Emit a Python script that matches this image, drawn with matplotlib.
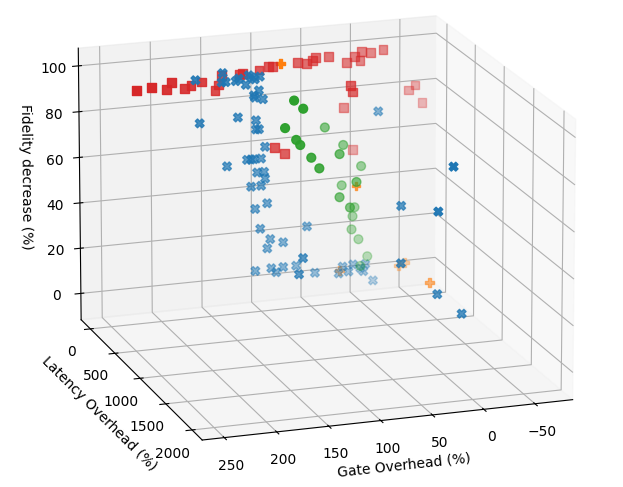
import matplotlib

matplotlib.use("Agg")
import matplotlib.pyplot as plt

# (gate overhead %, latency overhead %, fidelity decrease %) per method
red_x = [223, 209, 194, 189, 176, 170, 159, 146, 142, 139, 122, 118, 102, 92, 88, 64, 54, 49,
         45, 32, 15, 6, 1, -1, -10, -22, 19, 17, 17, 8, 95, 85, -48, -55, -62]
red_y = [0, 10, 0, 5, 0, 10, 0, 5, 0, 0, 10, 0, 5, 0, 0, 10, 0, 5,
         0, 0, 10, 0, 5, 0, 0, 10, 167, 167, 0, 0, 167, 167, 0, 0, 0]
red_z = [91, 92, 90, 93, 90, 91, 92, 88, 90, 94, 94, 94, 95, 96, 96, 97, 96, 97,
         98, 98, 95, 97, 95, 99, 98, 99, 88, 85, 75, 56, 64, 61, 80, 82, 74]

blue_x = [165, 138, 139, 135, 125, 122, 115, 112, 109, 106, 101, 102, 107, 106, 98,
          123, 105, 105, 102, 161, 96, 114, 110, 107, 100, 134, 104, 97, 96, 110, 100,
          106, 94, 101, 91, 78, 94, 54, 74, 106, 90, 85, 78, 65, 78, 46,
          18, 22, 7.5, 12, 0, -5, -3, -15, -20, -19, -12, -51, -36, -42, -60]
blue_y = [0, 0, 0, 0, 0, 0, 0, 0, 0, 0, 0, 0, 0, 0, 0,
          0, 0, 0, 0, 0, 0, 0, 0, 0, 0, 0, 0, 0, 0, 0, 0,
          0, 0, 0, 0, 0, 0, 0, 300, 0, 0, 0, 0, 0, 300, 0,
          0, 0, 0, 0, 0, 0, 0, -40, -40, 400, 524, 760, 760, 643, 760]
blue_z = [93, 95, 91, 91, 91, 92, 89, 93, 92, 91, 92, 86, 84, 83, 82,
          75, 73, 69, 69, 74, 61, 56, 56, 56, 56, 54, 50, 50, 47, 44, 44,
          34, 36, 25, 20, 18, 16, 24, 17, 6.5, 7, 5, 7, 7, 10, 3,
          4.5, 1.6, 5, 2, 3, 4.6, 1.5, -4, 71, 38, 15.5, 61, 42, 3, -4]

green_x = [88, 79, 97, 86, 82, 71, 63, 32, 32, 21.5, 15,
           36, 17.5, -0.6, 19, 6, 8, 9, 2, -7, 0]
green_y = [400, 400, 400, 400, 400, 400, 400, 200, 200, 200, 200,
           0, 0, 0, 0, 0, 0, 0, 0, 0, 0]
green_z = [88.6, 84.7, 77, 71.4, 69, 63, 58, 59, 40, 35, 46,
           67, 58.5, 48.4, 40.7, 30.4, 26.5, 20.7, 16, 8, 4]

orange_x = [80, -54, 10, -39, -45, 21]
orange_y = [0, 286, 100, 0, 0, 0]
orange_z = [97, 0, 42, 2.4, 3.5, 3]

fig = plt.figure(figsize=(6.23, 4.87), dpi=100)
ax = fig.add_axes([0.03, -0.08, 0.95, 1.216], projection="3d")
ax.set_proj_type("persp", focal_length=2.2)
ax.set_box_aspect((4, 4.2, 3), zoom=1.03)

ax.scatter(blue_x, blue_y, blue_z, marker="X", s=40, color="tab:blue")
ax.scatter(orange_x, orange_y, orange_z, marker="P", s=40, color="tab:orange")
ax.scatter(green_x, green_y, green_z, marker="o", s=40, color="tab:green")
ax.scatter(red_x, red_y, red_z, marker="s", s=40, color="tab:red")

ax.set_xlim(-87, 271)
ax.set_ylim(-190, 2190)
ax.set_zlim(-11.7, 107.7)
ax.set_xlabel("Gate Overhead (%)")
ax.set_ylabel("Latency Overhead (%)")
ax.set_zlabel("Fidelity decrease (%)")
ax.view_init(elev=17, azim=71.2)

fig.savefig("out.png", dpi=100)
